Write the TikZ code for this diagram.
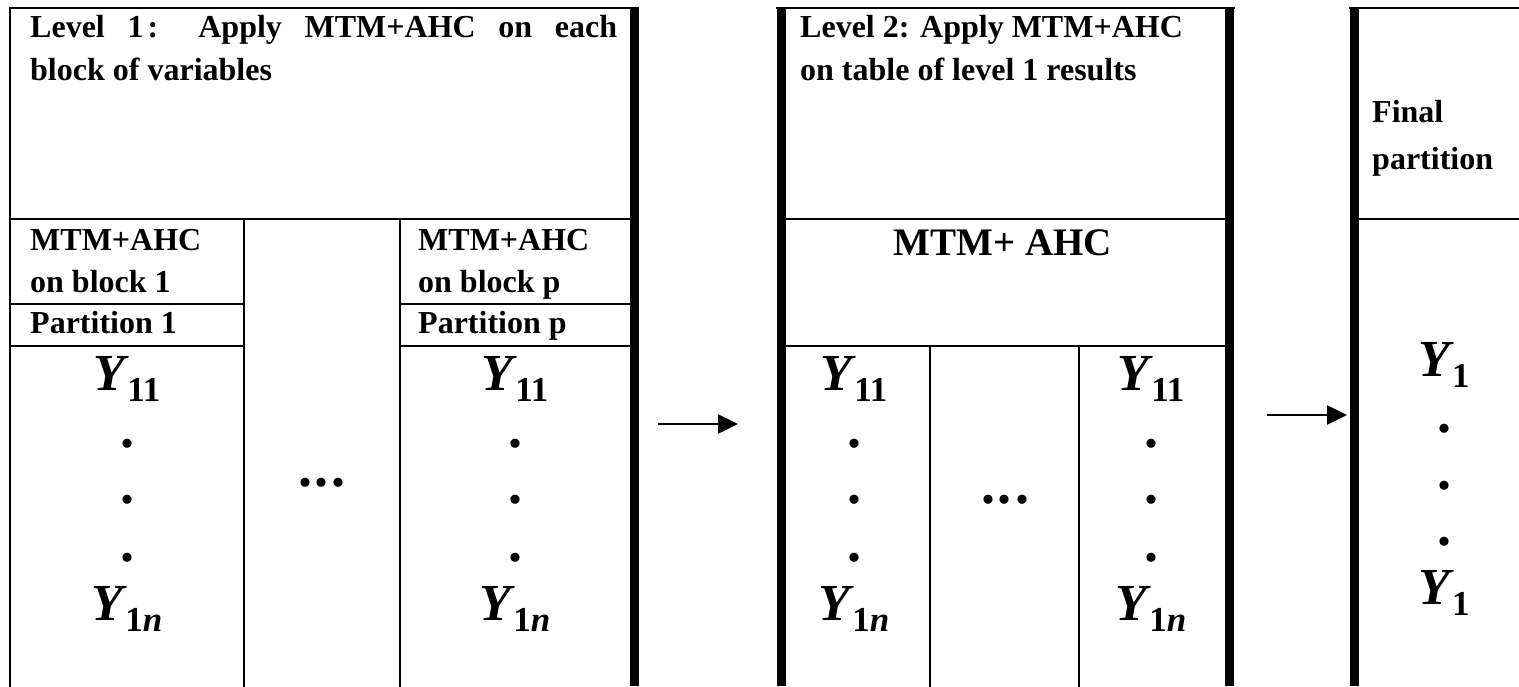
\documentclass[tikz,border=0pt]{standalone}
\usepackage{fontspec}
\setmainfont{Liberation Serif}
\usetikzlibrary{arrows.meta}
\newcommand{\bodyfont}{\fontsize{32}{38}\selectfont\bfseries}
\newcommand{\bigfont}{\fontsize{39}{46}\selectfont\bfseries}
\newcommand{\dotfont}{\fontsize{56}{60}\selectfont\bfseries}
\newcommand{\YY}[1]{{\fontsize{52}{60}\selectfont\bfseries\itshape Y}\kern2pt\raisebox{-11pt}{\fontsize{35}{40}\selectfont\bfseries #1}}
\tikzset{
  thinline/.style={line width=2pt, line cap=rect},
  thickline/.style={line width=9pt},
  lbl/.style={inner sep=0pt, anchor=base west, font=\bodyfont},
  yvar/.style={inner sep=0pt, anchor=base},
  vdot/.style={inner sep=0pt, anchor=center, font=\dotfont},
  flow/.style={line width=2.5pt, -{Triangle[length=20pt,width=19pt]}},
}
\begin{document}
\begin{tikzpicture}[x=1pt,y=-1pt]
\useasboundingbox (0,0) rectangle (1519,686);
\fill[white] (0,0) rectangle (1519,686);

% ---------- Table 1 ----------
\draw[thinline] (10,686) -- (10,7.5) -- (634,7.5);
\draw[thickline] (634.5,7) -- (634.5,686);
\draw[thinline] (10,219) -- (630,219);
\draw[thinline] (244,219) -- (244,686);
\draw[thinline] (400,219) -- (400,686);
\draw[thinline] (10,304) -- (244,304);
\draw[thinline] (10,346) -- (244,346);
\draw[thinline] (400,304) -- (630,304);
\draw[thinline] (400,346) -- (630,346);

\node[lbl] (t1l1) at (30,37) {\makebox[587pt][s]{Level 1\hspace{4pt}: Apply MTM+AHC on each}};
\node[lbl] (t1l2) at (30,80) {block of variables};
\node[lbl] (c1a) at (30,250) {MTM+AHC};
\node[lbl] (c1b) at (30,292) {on block 1};
\node[lbl] (c1c) at (30,333) {Partition 1};
\node[lbl] (cpa) at (418,250) {MTM+AHC};
\node[lbl] (cpb) at (418,292) {on block p};
\node[lbl] (cpc) at (418,333) {Partition p};

\node[yvar] (y1a) at (127,390) {\YY{11}};
\node[vdot] (d1a) at (127,444) {.};
\node[vdot] (d1b) at (127,500) {.};
\node[vdot] (d1c) at (127,558) {.};
\node[yvar] (y1b) at (127,620) {\YY{1\itshape n}};

\node[vdot] (el1) at (322,483) {.\kern3pt.\kern3pt.};

\node[yvar] (y2a) at (515,390) {\YY{11}};
\node[vdot] (d2a) at (515,444) {.};
\node[vdot] (d2b) at (515,500) {.};
\node[vdot] (d2c) at (515,558) {.};
\node[yvar] (y2b) at (515,620) {\YY{1\itshape n}};

% ---------- Table 2 ----------
\draw[thickline] (781.5,686) -- (781.5,7);
\draw[thinline] (777,7.5) -- (1234,7.5);
\draw[thickline] (1229.5,7) -- (1229.5,686);
\draw[thinline] (786,219) -- (1225,219);
\draw[thinline] (786,346) -- (1225,346);
\draw[thinline] (930,346) -- (930,686);
\draw[thinline] (1079,346) -- (1079,686);

\node[lbl] (t2l1) at (800,37) {Level 2: Apply MTM+AHC};
\node[lbl] (t2l2) at (800,80) {on table of level 1 results};
\node[inner sep=0pt, anchor=base, font=\bigfont] (mtm2) at (1003,255) {MTM+ AHC};

\node[yvar] (y3a) at (854,390) {\YY{11}};
\node[vdot] (d3a) at (854,444) {.};
\node[vdot] (d3b) at (854,500) {.};
\node[vdot] (d3c) at (854,558) {.};
\node[yvar] (y3b) at (854,620) {\YY{1\itshape n}};

\node[vdot] (el2) at (1005,500) {.\kern3pt.\kern3pt.};

\node[yvar] (y4a) at (1151,390) {\YY{11}};
\node[vdot] (d4a) at (1151,444) {.};
\node[vdot] (d4b) at (1151,500) {.};
\node[vdot] (d4c) at (1151,558) {.};
\node[yvar] (y4b) at (1151,620) {\YY{1\itshape n}};

% ---------- Table 3 ----------
\draw[thickline] (1354.5,686) -- (1354.5,7);
\draw[thinline] (1350,7.5) -- (1519,7.5);
\draw[thinline] (1359,219) -- (1519,219);

\node[lbl] (fin1) at (1372,122) {Final};
\node[lbl] (fin2) at (1372,169) {partition};

\node[yvar] (y5a) at (1444,376) {\YY{1}};
\node[vdot] (d5a) at (1444,429) {.};
\node[vdot] (d5b) at (1444,486) {.};
\node[vdot] (d5c) at (1444,542) {.};
\node[yvar] (y5b) at (1444,604) {\YY{1}};

% ---------- Arrows ----------
\coordinate (a1s) at (658,424);
\coordinate (a1e) at (738,424);
\coordinate (a2s) at (1267,415);
\coordinate (a2e) at (1347,415);
\draw[flow] (a1s) -- (a1e);
\draw[flow] (a2s) -- (a2e);
\end{tikzpicture}
\end{document}
